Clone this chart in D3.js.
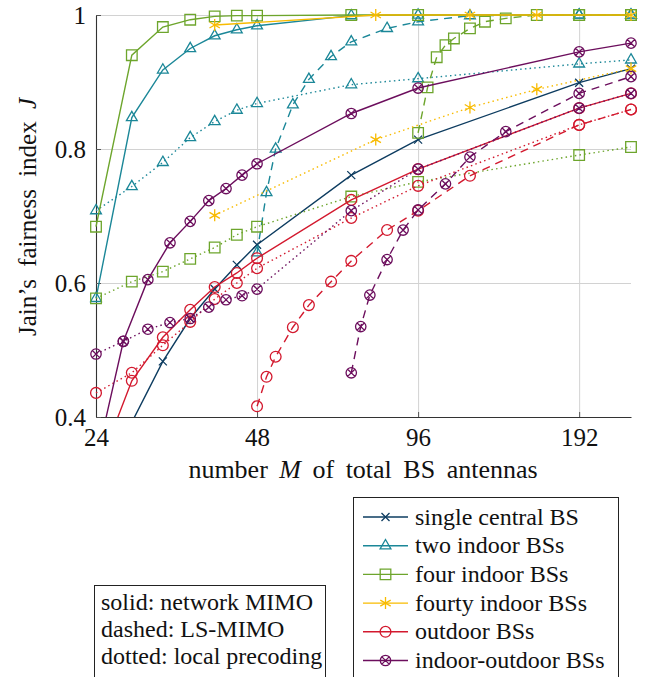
<!doctype html>
<html>
<head>
<meta charset="UTF-8">
<title>Jain's fairness index</title>
<script src="https://cdn.jsdelivr.net/npm/d3@7"></script>
<style>
  body { margin: 0; background: #fff; }
  svg { display: block; font-family: "Liberation Serif", "Times New Roman", serif; }
  .grid line { stroke: #d2d2d2; stroke-width: 1; }
  .grid path { display: none; }
</style>
</head>
<body>
<div id="chart"></div>
<script>
// number of antennas M for each group of curves
var mBase  = [24, 28, 32, 36, 40, 44, 48, 72, 96, 192, 240];
var mThree = [24, 27, 30, 33, 36, 39, 42, 45, 48, 72, 96, 192, 240];
var mLsTwo = [48, 50, 52, 56, 60, 66, 72, 84, 96, 120, 192, 240];
var mLsFour = [96, 100, 104, 108, 112, 120, 128, 140, 160, 192, 240];
var mLsMix = [72, 75, 78, 84, 90, 96, 108, 120, 140, 192, 240];
var mForty = [40, 80, 120, 160, 240];

// Jain's index J
var singleSolid = [0.29, 0.392, 0.483, 0.547, 0.591, 0.627, 0.657, 0.761, 0.814, 0.899, 0.920];

var twoSolid  = [0.577, 0.847, 0.918, 0.950, 0.969, 0.978, 0.984, 0.999, 1.0, 1.0, 1.0];
var twoDotted = [0.708, 0.744, 0.780, 0.817, 0.841, 0.858, 0.868, 0.896, 0.905, 0.927, 0.933];
var twoDashed = [0.645, 0.735, 0.800, 0.866, 0.904, 0.938, 0.960, 0.980, 0.990, 0.999, 1.0, 1.0];

var fourSolid  = [0.684, 0.940, 0.982, 0.993, 0.998, 0.999, 0.999, 1.0, 1.0, 1.0, 1.0];
var fourDotted = [0.577, 0.602, 0.617, 0.636, 0.653, 0.672, 0.684, 0.729, 0.751, 0.791, 0.803];
var fourDashed = [0.824, 0.892, 0.937, 0.955, 0.965, 0.980, 0.990, 0.995, 1.0, 1.0, 1.0];

var fortySolid  = [0.985, 1.0, 1.0, 1.0, 1.0];
var fortyDotted = [0.701, 0.814, 0.862, 0.889, 0.920];

var outSolid  = [0.315, 0.454, 0.519, 0.560, 0.594, 0.615, 0.637, 0.724, 0.770, 0.861, 0.883];
var outDotted = [0.436, 0.466, 0.507, 0.542, 0.576, 0.600, 0.622, 0.697, 0.745, 0.836, 0.859];
var outDashed = [0.416, 0.460, 0.490, 0.534, 0.567, 0.602, 0.633, 0.679, 0.708, 0.760, 0.836, 0.859];

var mixSolid  = [0.333, 0.513, 0.605, 0.660, 0.692, 0.723, 0.741, 0.761, 0.778, 0.853, 0.891, 0.945, 0.958];
var mixDotted = [0.494, 0.513, 0.531, 0.541, 0.547, 0.564, 0.575, 0.581, 0.591, 0.708, 0.770, 0.861, 0.883];
var mixDashed = [0.466, 0.535, 0.582, 0.635, 0.679, 0.709, 0.748, 0.788, 0.826, 0.883, 0.908];

var legendNames = ["single central BS", "two indoor BSs", "four indoor BSs",
                   "fourty indoor BSs", "outdoor BSs", "indoor-outdoor BSs"];
var styleNotes = ["solid: network MIMO", "dashed: LS-MIMO", "dotted: local precoding"];

var xTicks = [24, 48, 96, 192];
var yTicks = [0.4, 0.6, 0.8, 1];

var colors = ["#0d3c60", "#1b8798", "#6da52c", "#f8bb00", "#d3192e", "#6c0e5d"];
var markers = ["cross", "triangle", "square", "star", "circle", "otimes"];
var dashes = { solid: null, dashed: "8,6", dotted: "1.5,3.2" };

// series table: [group index, style, M values, J values]
var series = [
  [0, "solid", mBase, singleSolid],
  [1, "dotted", mBase, twoDotted],
  [1, "dashed", mLsTwo, twoDashed],
  [1, "solid", mBase, twoSolid],
  [2, "dotted", mBase, fourDotted],
  [2, "dashed", mLsFour, fourDashed],
  [2, "solid", mBase, fourSolid],
  [3, "dotted", mForty, fortyDotted],
  [3, "solid", mForty, fortySolid],
  [4, "dotted", mBase, outDotted],
  [4, "dashed", mLsTwo, outDashed],
  [4, "solid", mBase, outSolid],
  [5, "dotted", mThree, mixDotted],
  [5, "dashed", mLsMix, mixDashed],
  [5, "solid", mThree, mixSolid]
];

var w = 647, h = 677;
var pl = 96, pr = 631, pt = 15, pb = 417;

var x = d3.scaleLog().domain([24, 240]).range([pl, pr]);
var y = d3.scaleLinear().domain([0.4, 1]).range([pb, pt]);

var svg = d3.select("#chart").append("svg").attr("width", w).attr("height", h);

svg.append("defs").append("clipPath").attr("id", "plotclip")
   .append("rect").attr("x", 0).attr("y", 0).attr("width", w).attr("height", pb);

// grid
svg.append("g").attr("class", "grid")
   .attr("transform", "translate(0," + pb + ")")
   .call(d3.axisBottom(x).tickValues(xTicks).tickSize(-(pb - pt)).tickFormat(""));
svg.append("g").attr("class", "grid")
   .attr("transform", "translate(" + pl + ",0)")
   .call(d3.axisLeft(y).tickValues(yTicks).tickSize(-(pr - pl)).tickFormat(""));

// axes
var gx = svg.append("g")
   .attr("transform", "translate(0," + pb + ")")
   .call(d3.axisBottom(x).tickValues(xTicks).tickFormat(d3.format("d"))
          .tickSizeInner(-5).tickSizeOuter(0).tickPadding(11));
var gy = svg.append("g")
   .attr("transform", "translate(" + pl + ",0)")
   .call(d3.axisLeft(y).tickValues(yTicks).tickFormat(function(d){ return d === 1 ? "1" : d3.format(".1f")(d); })
          .tickSizeInner(-5).tickSizeOuter(0).tickPadding(10));

[gx, gy].forEach(function(g){
  g.attr("font-family", null).attr("font-size", null);
  g.selectAll("text").attr("font-size", 25).attr("fill", "#111");
  g.select(".domain").attr("stroke", "#333").attr("stroke-width", 1.1);
  g.selectAll(".tick line").attr("stroke", "#555");
});

function markerPath(type){
  switch(type){
    case "cross": return "M-4,-4L4,4M-4,4L4,-4";
    case "triangle": return "M0,-6.2L5.4,3.1L-5.4,3.1Z";
    case "square": return "M-5.3,-5.3H5.3V5.3H-5.3Z";
    case "star": return "M0,-6V6M-5.2,-3L5.2,3M-5.2,3L5.2,-3";
    case "circle": return "M5.4,0A5.4,5.4 0 1,1 -5.4,0A5.4,5.4 0 1,1 5.4,0Z";
    case "otimes": return "M5.2,0A5.2,5.2 0 1,1 -5.2,0A5.2,5.2 0 1,1 5.2,0Z" +
                          "M-3.6,-3.6L3.6,3.6M-3.6,3.6L3.6,-3.6";
  }
}

var line = d3.line()
  .x(function(d){ return x(d[0]); })
  .y(function(d){ return y(d[1]); });

var plot = svg.append("g").attr("clip-path", "url(#plotclip)");

series.forEach(function(s){
  var color = colors[s[0]];
  var pts = d3.zip(s[2], s[3]);
  var g = plot.append("g");
  g.append("path")
    .attr("d", line(pts))
    .attr("fill", "none")
    .attr("stroke", color)
    .attr("stroke-width", 1.4)
    .attr("stroke-dasharray", dashes[s[1]]);
  g.selectAll("path.mk")
    .data(pts.filter(function(d){ return d[1] >= 0.4; }))
    .enter().append("path")
    .attr("class", "mk")
    .attr("d", markerPath(markers[s[0]]))
    .attr("transform", function(d){ return "translate(" + x(d[0]) + "," + y(d[1]) + ")"; })
    .attr("fill", "none")
    .attr("stroke", color)
    .attr("stroke-width", 1.3);
});

// axis labels
var xl = svg.append("text").attr("x", (pl + pr) / 2 - 0.5).attr("y", 478)
   .attr("text-anchor", "middle").attr("font-size", 26).attr("word-spacing", 5).attr("fill", "#111");
xl.append("tspan").text("number ");
xl.append("tspan").attr("font-style", "italic").text("M");
xl.append("tspan").text(" of total BS antennas");

var yl = svg.append("text")
   .attr("transform", "translate(36," + ((pt + pb) / 2 + 1) + ") rotate(-90)")
   .attr("text-anchor", "middle").attr("font-size", 25).attr("word-spacing", 6).attr("fill", "#111");
yl.append("tspan").text("Jain\u2019s fairness index ");
yl.append("tspan").attr("font-style", "italic").text("J");

// legend with the six configurations
var lg = svg.append("g");
lg.append("rect").attr("x", 353.5).attr("y", 497.5).attr("width", 265).attr("height", 200)
  .attr("fill", "#fff").attr("stroke", "#222").attr("stroke-width", 1);
legendNames.forEach(function(name, i){
  var cy = 517 + i * 28.7;
  lg.append("line").attr("x1", 363).attr("x2", 408).attr("y1", cy).attr("y2", cy)
    .attr("stroke", colors[i]).attr("stroke-width", 1.4);
  lg.append("path").attr("d", markerPath(markers[i]))
    .attr("transform", "translate(385.5," + cy + ")")
    .attr("fill", "none").attr("stroke", colors[i]).attr("stroke-width", 1.3);
  lg.append("text").attr("x", 415).attr("y", cy + 7.5)
    .attr("font-size", 24).attr("fill", "#111").text(name);
});

// legend for line styles
var ls = svg.append("g");
ls.append("rect").attr("x", 94.5).attr("y", 585.5).attr("width", 231).attr("height", 120)
  .attr("fill", "#fff").attr("stroke", "#222").attr("stroke-width", 1);
styleNotes.forEach(function(t, i){
  ls.append("text").attr("x", 101).attr("y", 609.5 + i * 27)
    .attr("font-size", 24).attr("fill", "#111").text(t);
});
</script>
</body>
</html>
